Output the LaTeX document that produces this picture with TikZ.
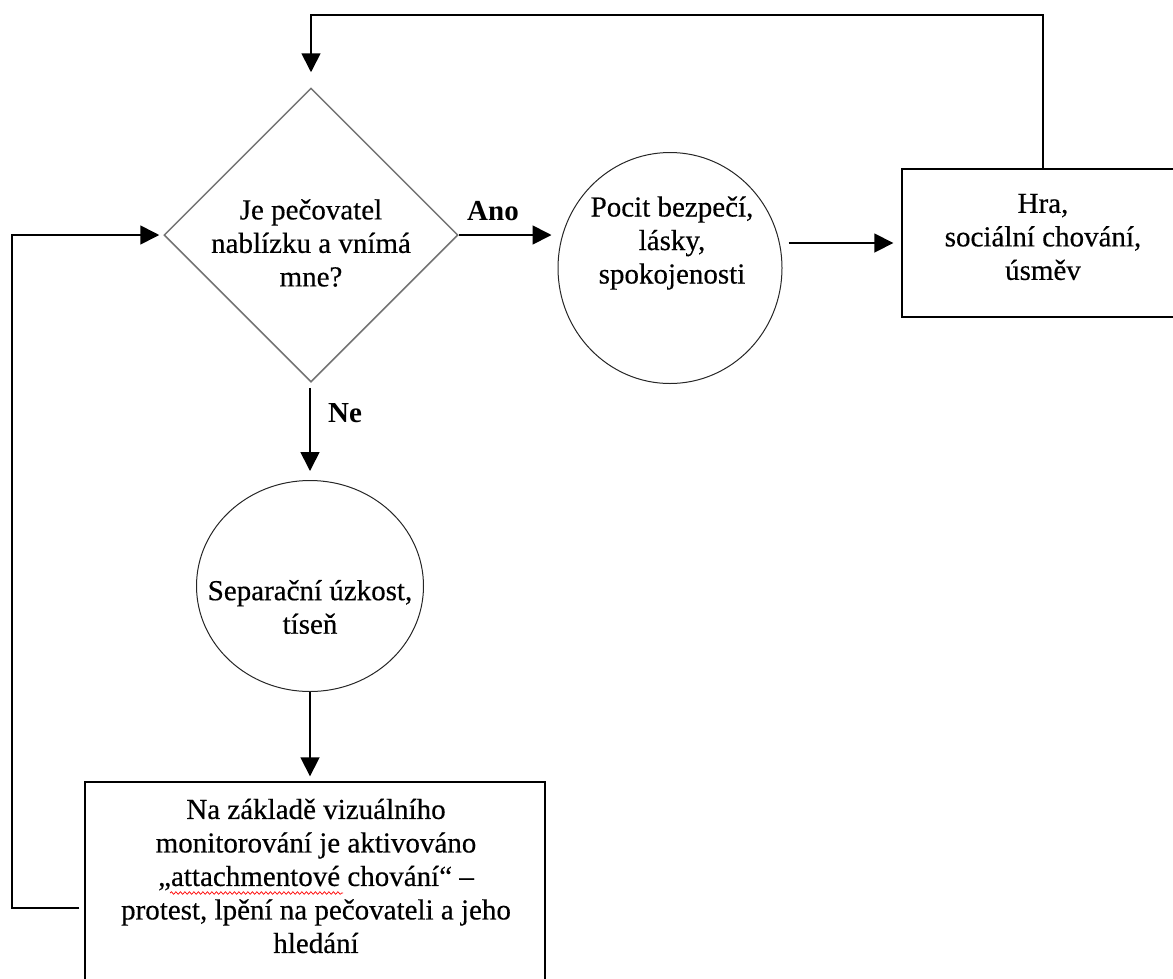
\documentclass[tikz,border=0pt]{standalone}
\usepackage{fontspec}
\setmainfont{Liberation Serif}
\newfontfamily\heavyserif[FakeBold=0.4]{Liberation Serif}
\usetikzlibrary{arrows.meta,shapes.geometric,decorations.pathmorphing}
\begin{document}
\begin{tikzpicture}[x=1pt,y=-1pt,
  txt/.style={font=\heavyserif\fontsize{29}{33.5}\selectfont, align=center, inner sep=0},
  lbl/.style={font=\fontsize{29}{33.5}\selectfont\bfseries, inner sep=0},
  conn/.style={line width=1.7pt, -{Triangle[length=19pt,width=19pt]}},
  boxnode/.style={draw, line width=1.4pt, inner sep=0},
  ellnode/.style={draw=black!85, ellipse, line width=1pt, inner sep=0},
  dia/.style={draw=black!55, diamond, line width=1.5pt, inner sep=0, minimum width=294pt, minimum height=294pt}]
\useasboundingbox (0,0) rectangle (1173,978);
% nodes
\node (dia) [dia] at (311,235) {};
\node (diatext) [txt] at (311,243) {Je pečovatel\\nablízku a vnímá\\mne?};
\node (c1) [ellnode, minimum width=224pt, minimum height=231pt] at (670,268) {};
\node (c1text) [txt] at (672,243) {Pocit bezpečí,\\lásky,\\spokojenosti};
\node (hra) [boxnode, minimum width=282pt, minimum height=148pt] at (1043,243) {};
\node (hratext) [txt] at (1043,237) {Hra,\\sociální chování,\\úsměv};
\node (c2) [ellnode, minimum width=227pt, minimum height=211pt] at (310,586) {};
\node (c2text) [txt] at (310,607) {Separační úzkost,\\tíseň};
\node (bbox) [boxnode, minimum width=460pt, minimum height=218pt] at (315,891) {};
\node (btext) [txt] at (316,876) {Na základě vizuálního\\monitorování je aktivováno\\„attachmentové chování“ –\\protest, lpění na pečovateli a jeho\\hledání};
% labels
\node (ano) [lbl] at (493,211) {Ano};
\node (ne) [lbl] at (345,413) {Ne};
% coordinates for bends
\coordinate (topR) at (1043,15);
\coordinate (botL) at (12,908);
% connectors
\draw[conn, shorten >=6pt] (dia.east) -- (dia.east -| c1.west);
\draw[conn, shorten <=6pt, shorten >=8pt] (c1.east |- hra.west) -- (hra.west);
\draw[conn, shorten >=15pt] (hra.north) -- (topR) -| (dia.north);
\draw[conn, shorten <=5pt, shorten >=9pt] (c2.north |- dia.south) -- (c2.north);
\draw[conn, shorten >=5pt] (c2.south) -- (bbox.north -| c2.south);
\draw[conn, shorten <=5pt, shorten >=4pt] (bbox.west |- botL) -- (botL) |- (dia.west);
% spell-check underline
\draw[red, line width=0.7pt, decorate, decoration={snake, amplitude=1.3pt, segment length=4.5pt}] (170,893) -- (343,893);
\end{tikzpicture}
\end{document}
